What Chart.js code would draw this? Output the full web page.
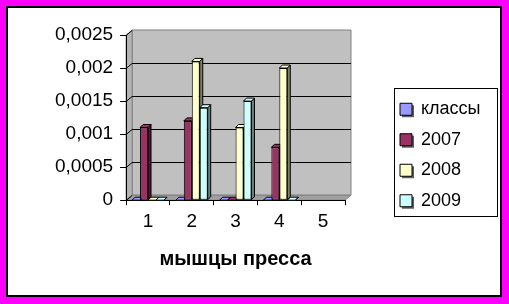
<!DOCTYPE html>
<html>
<head>
<meta charset="utf-8">
<script src="https://cdn.jsdelivr.net/npm/chart.js@4"></script>
<style>
  html, body { margin: 0; padding: 0; background: #ff00ff; }
  #frame {
    position: absolute; left: 6px; top: 6px;
    width: 492px; height: 287px;
    border: 2px solid #000; background: #fff;
  }
</style>
</head>
<body>
<div id="frame"><canvas id="chart"></canvas></div>
<script>
const categories = ['1', '2', '3', '4', '5'];
const seriesNames = ['классы', '2007', '2008', '2009'];
const klassy = [0, 0, 0, 0, null];
const y2007 = [0.0011, 0.0012, 0, 0.0008, null];
const y2008 = [0, 0.0021, 0.0011, 0.002, null];
const y2009 = [0, 0.0014, 0.0015, 0, null];
const yTicks = [0, 0.0005, 0.001, 0.0015, 0.002, 0.0025];

const fronts = ['#9999ff', '#993366', '#ffffcc', '#ccffff'];
const sides = ['#4d4d80', '#4d1a33', '#808066', '#668080'];

const FONT = "'Liberation Sans', Arial, sans-serif";
const WALL = { dx: 6, dy: -5 };
const BAR = { dx: 3, dy: -3 };
const LEGEND = { left: 379.5, right: 489, top: 27, bottom: 267 };

const poly = (ctx, pts, fill, stroke) => {
    ctx.beginPath();
    ctx.moveTo(pts[0][0], pts[0][1]);
    for (let i = 1; i < pts.length; i++) ctx.lineTo(pts[i][0], pts[i][1]);
    ctx.closePath();
    ctx.fillStyle = fill;
    ctx.fill();
    ctx.strokeStyle = stroke;
    ctx.lineWidth = 1;
    ctx.stroke();
};

// back wall, side wall, floor and gridlines
const wallsPlugin = {
    id: 'walls',
    beforeDraw(chart) {
        const { ctx, chartArea: a, scales } = chart;
        const { dx, dy } = WALL;
        ctx.save();
        poly(ctx, [[a.left + dx, a.top + dy], [a.right + dx, a.top + dy], [a.right + dx, a.bottom + dy], [a.left + dx, a.bottom + dy]], '#c0c0c0', '#808080');
        poly(ctx, [[a.left, a.top], [a.left + dx, a.top + dy], [a.left + dx, a.bottom + dy], [a.left, a.bottom]], '#b4b4b4', '#808080');
        poly(ctx, [[a.left, a.bottom], [a.left + dx, a.bottom + dy], [a.right + dx, a.bottom + dy], [a.right, a.bottom]], '#a0a0a0', '#808080');
        ctx.strokeStyle = '#000';
        ctx.lineWidth = 1;
        yTicks.forEach((v, i) => {
            const y = Math.round(scales.y.getPixelForValue(v)) + 0.5;
            ctx.beginPath();
            ctx.moveTo(a.left, y);
            ctx.lineTo(a.left + dx, y + dy);
            if (i > 0 && i < yTicks.length - 1) ctx.lineTo(a.right + dx, y + dy);
            ctx.stroke();
        });
        // swatch shadows, the legend draws its boxes over them
        ctx.fillStyle = '#606060';
        chart.legend.legendHitBoxes.forEach(hb => {
            ctx.fillRect(hb.left + 2, hb.top + 5, 12, 12);
        });
        ctx.restore();
    }
};

// tops and sides of the bars, drawn before the library's front faces
const depthPlugin = {
    id: 'depth',
    beforeDatasetsDraw(chart) {
        const { ctx } = chart;
        const { dx, dy } = BAR;
        ctx.save();
        chart.data.datasets.forEach((ds, di) => {
            const meta = chart.getDatasetMeta(di);
            meta.data.forEach((el, i) => {
                if (ds.data[i] === null) return;
                const { x, y, base, width } = el.getProps(['x', 'y', 'base', 'width'], true);
                const l = x - width / 2, r = x + width / 2;
                poly(ctx, [[r, y], [r + dx, y + dy], [r + dx, base + dy], [r, base]], sides[di], '#000');
                poly(ctx, [[l, y], [l + dx, y + dy], [r + dx, y + dy], [r, y]], fronts[di], '#000');
            });
        });
        ctx.restore();
    }
};

// place the legend to the right of the plot and frame it
const legendBoxPlugin = {
    id: 'legendBox',
    afterUpdate(chart) {
        const lg = chart.legend;
        lg.fit();
        Object.assign(lg, LEGEND);
        lg.width = LEGEND.right - LEGEND.left;
        lg.height = LEGEND.bottom - LEGEND.top;
        lg.adjustHitBoxes();
    },
    afterDraw(chart) {
        const boxes = chart.legend.legendHitBoxes;
        if (!boxes.length) return;
        const first = boxes[0], last = boxes[boxes.length - 1];
        const { ctx } = chart;
        ctx.save();
        ctx.strokeStyle = '#000';
        ctx.lineWidth = 1;
        ctx.strokeRect(Math.round(first.left - 6) + 0.5, Math.round(first.top - 12) + 0.5, 103, Math.round(last.top + last.height + 6 - (first.top - 12)));
        ctx.restore();
    }
};

const datasets = [klassy, y2007, y2008, y2009].map((vals, i) => ({
    label: seriesNames[i],
    data: vals,
    backgroundColor: fronts[i],
    borderColor: '#000',
    borderWidth: 1,
    borderSkipped: false,
    categoryPercentage: 0.727,
    barPercentage: 1
}));

new Chart(document.getElementById('chart'), {
    type: 'bar',
    data: { labels: categories, datasets },
    options: {
        responsive: true,
        maintainAspectRatio: false,
        animation: false,
        layout: { padding: { left: 40, top: 27, right: 155, bottom: 20 } },
        plugins: {
            tooltip: { enabled: false },
            legend: {
                position: 'chartArea',
                labels: {
                    font: { family: FONT, size: 18 },
                    color: '#000',
                    boxWidth: 12,
                    boxHeight: 12,
                    padding: 12.5
                }
            }
        },
        scales: {
            x: {
                offset: true,
                grid: { display: true, drawOnChartArea: false, drawTicks: true, tickLength: 5, color: '#000', offset: true },
                border: { display: true, color: '#000' },
                ticks: { font: { family: FONT, size: 19 }, color: '#000', padding: 5 },
                title: {
                    display: true,
                    text: 'мышцы пресса',
                    font: { family: FONT, size: 20, weight: 'bold' },
                    color: '#000',
                    padding: { top: 9, bottom: 4 }
                }
            },
            y: {
                min: 0,
                max: 0.0025,
                grid: { display: true, drawOnChartArea: false, drawTicks: true, tickLength: 6, color: '#000' },
                border: { display: true, color: '#000' },
                ticks: {
                    stepSize: 0.0005,
                    font: { family: FONT, size: 19 },
                    color: '#000',
                    padding: 7,
                    callback: v => String(+v.toFixed(4)).replace('.', ',')
                }
            }
        }
    },
    plugins: [wallsPlugin, depthPlugin, legendBoxPlugin]
});
</script>
</body>
</html>
